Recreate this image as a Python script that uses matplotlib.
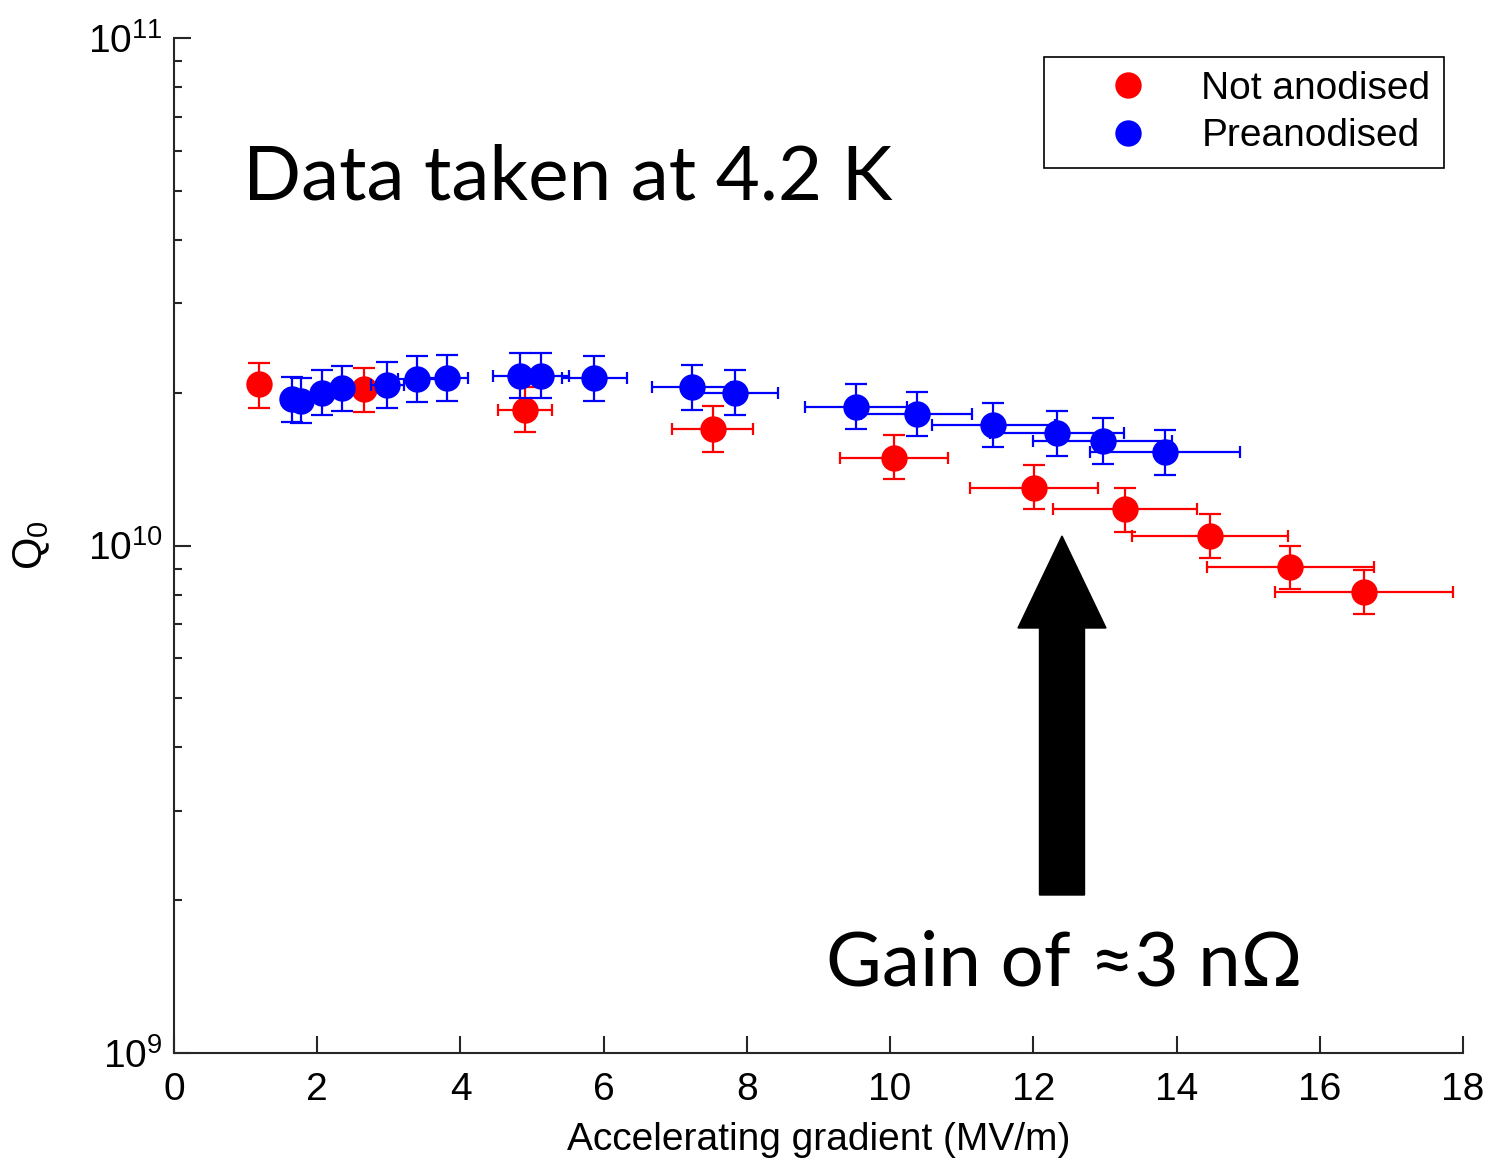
import matplotlib
matplotlib.use("Agg")
import matplotlib.pyplot as plt
from matplotlib.lines import Line2D
from matplotlib.patches import FancyArrow
import numpy as np

plt.rcParams['font.family'] = ['Liberation Sans', 'DejaVu Sans']
plt.rcParams['mathtext.fontset'] = 'custom'
plt.rcParams['mathtext.rm'] = 'Liberation Sans'
plt.rcParams['mathtext.it'] = 'Liberation Sans:italic'

# ---- data: Not anodised ----
red_E = [1.19, 2.66, 4.90, 7.52, 10.06, 12.01, 13.28, 14.47, 15.59, 16.62]
red_Q = [2.08e10, 2.03e10, 1.85e10, 1.70e10, 1.49e10, 1.30e10, 1.18e10, 1.046e10, 9.08e9, 8.10e9]
red_Elerr = [0.10, 0.10, 0.375, 0.57, 0.755, 0.90, 1.00, 1.09, 1.17, 1.245]
red_Qlo = [1.87e10, 1.83e10, 1.67e10, 1.53e10, 1.35e10, 1.18e10, 1.065e10, 9.45e9, 8.2e9, 7.33e9]
red_Qhi = [2.29e10, 2.24e10, 2.05e10, 1.88e10, 1.65e10, 1.44e10, 1.30e10, 1.155e10, 1.0e10, 8.95e9]

# ---- data: Preanodised ----
blue_E = [1.65, 1.77, 2.07, 2.34, 2.98, 3.40, 3.81, 4.83, 5.13, 5.87,
          7.23, 7.84, 9.52, 10.37, 11.44, 12.33, 12.97, 13.84]
blue_Q = [1.94e10, 1.93e10, 2.00e10, 2.04e10, 2.07e10, 2.13e10, 2.14e10, 2.16e10, 2.16e10, 2.135e10,
          2.05e10, 2.00e10, 1.877e10, 1.815e10, 1.728e10, 1.664e10, 1.607e10, 1.53e10]
blue_Eerr = [0.10, 0.10, 0.12, 0.14, 0.23, 0.27, 0.30, 0.37, 0.39, 0.45,
             0.55, 0.59, 0.71, 0.78, 0.86, 0.93, 0.97, 1.045]
blue_Qlo = [1.75e10, 1.74e10, 1.81e10, 1.84e10, 1.87e10, 1.92e10, 1.93e10, 1.95e10, 1.95e10, 1.93e10,
            1.85e10, 1.81e10, 1.70e10, 1.64e10, 1.56e10, 1.50e10, 1.45e10, 1.38e10]
blue_Qhi = [2.15e10, 2.14e10, 2.22e10, 2.26e10, 2.30e10, 2.36e10, 2.37e10, 2.39e10, 2.39e10, 2.36e10,
            2.27e10, 2.22e10, 2.08e10, 2.01e10, 1.91e10, 1.84e10, 1.78e10, 1.69e10]

x_ticks = [0, 2, 4, 6, 8, 10, 12, 14, 16, 18]

fig = plt.figure(figsize=(14.93, 11.59), dpi=100)
ax = fig.add_axes([174/1493, 1 - 1053/1159, 1289/1493, 1015/1159])

def draw(E, Q, Eerr, Qlo, Qhi, color):
    E = np.array(E); Q = np.array(Q)
    yerr = [Q - np.array(Qlo), np.array(Qhi) - Q]
    ax.errorbar(E, Q, yerr=yerr, fmt='none', ecolor=color, elinewidth=1.6, capsize=8, capthick=1.6)
    ax.errorbar(E, Q, xerr=Eerr, fmt='none', ecolor=color, elinewidth=1.6, capsize=4, capthick=1.6)
    ax.plot(E, Q, 'o', color=color, markersize=19, markeredgewidth=0, linestyle='none')

draw(red_E, red_Q, red_Elerr, red_Qlo, red_Qhi, (1, 0, 0))
draw(blue_E, blue_Q, blue_Eerr, blue_Qlo, blue_Qhi, (0, 0, 1))

ax.set_yscale('log')
ax.set_ylim(1e9, 1e11)
ax.set_xlim(0, 18)
ax.set_xticks(x_ticks)
ax.set_xticklabels([str(t) for t in x_ticks])
ax.spines['top'].set_visible(False)
ax.spines['right'].set_visible(False)
for s in ['left', 'bottom']:
    ax.spines[s].set_linewidth(1.5)
    ax.spines[s].set_color('#262626')
ax.tick_params(axis='both', which='major', direction='in', length=12, width=1.5,
               labelsize=28, pad=14, color='#262626')
ax.tick_params(axis='y', which='minor', direction='in', length=6, width=1.5, color='#262626')
ax.tick_params(axis='y', which='major', pad=8)

ax.set_xlabel('Accelerating gradient (MV/m)', fontsize=28, labelpad=10)
ax.set_ylabel(r'Q$_{\mathregular{0}}$', fontsize=30, labelpad=26)

handles = [Line2D([], [], marker='o', color=(1, 0, 0), linestyle='none', markersize=19, markeredgewidth=0),
           Line2D([], [], marker='o', color=(0, 0, 1), linestyle='none', markersize=19, markeredgewidth=0)]
leg = ax.legend(handles, ['Not anodised', 'Preanodised'], loc='upper right',
                bbox_to_anchor=((1444 - 174) / 1289, (1053 - 57) / 1015),
                fontsize=28, frameon=True, fancybox=False, framealpha=1,
                borderpad=0.35, labelspacing=0.3, handlelength=3.62, handletextpad=0.07,
                borderaxespad=0)
leg.get_frame().set_edgecolor('black')
leg.get_frame().set_linewidth(1.2)

ax.text((243 - 174) / 1289, (1053 - 200) / 1015, 'Data taken at 4.2 K', transform=ax.transAxes,
        fontsize=55, family=['Lato', 'DejaVu Sans'], ha='left', va='baseline')
ax.text((826 - 174) / 1289, (1053 - 985) / 1015, 'Gain of \u22483 n\u03a9', transform=ax.transAxes,
        fontsize=55, family=['Lato', 'DejaVu Sans'], ha='left', va='baseline')

tip_x = (1062 - 174) / 1289
base_y = (1053 - 895) / 1015
tip_y = (1053 - 536) / 1015
arr = FancyArrow(tip_x, base_y, 0, tip_y - base_y, width=45 / 1289, head_width=88 / 1289,
                 head_length=92 / 1015, length_includes_head=True, transform=ax.transAxes,
                 color='black', zorder=5)
ax.add_patch(arr)

fig.savefig('out.png', dpi=100)
